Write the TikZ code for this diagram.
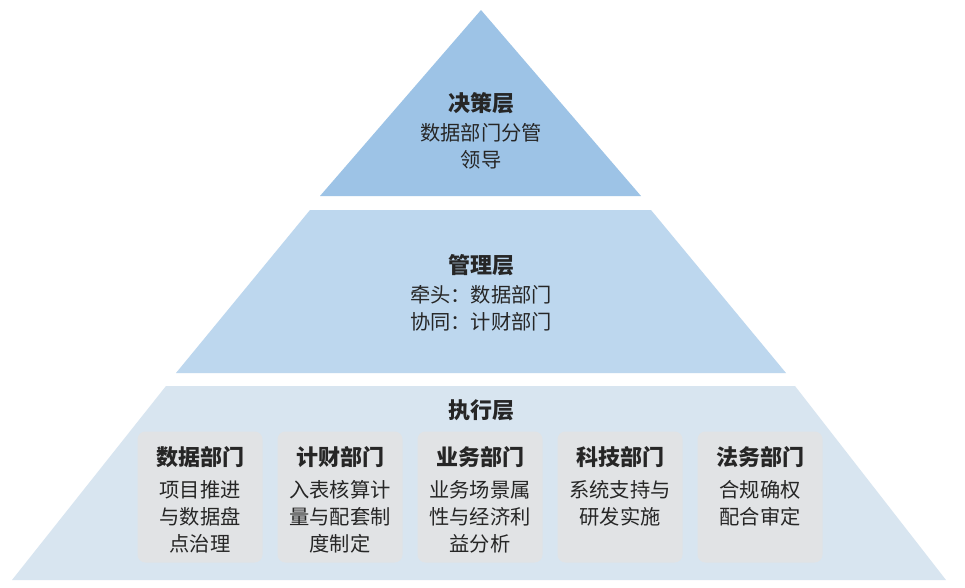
\documentclass[tikz,border=0pt]{standalone}
\usepackage{fontspec}
\setmainfont{Noto Sans CJK SC}
\definecolor{topBlue}{HTML}{9DC3E6}
\definecolor{midBlue}{HTML}{BDD7EE}
\definecolor{lowBlue}{HTML}{D8E5F0}
\definecolor{boxGrey}{HTML}{E1E3E5}
\definecolor{inkGrey}{HTML}{262626}
\newcommand{\drawDept}[4]{
	\node[deptbox] (#1) at (#2,497) {};
	\node[depttitle] (#1-title) at (#2,457) {#3};
	\node[layerbody, anchor=north] (#1-body) at (#2,480) {#4};
}

\begin{document}
\begin{tikzpicture}[x=0.75pt,y=-0.75pt,
	layertitle/.style={font=\fontsize{16.5}{20}\selectfont\bfseries, text=inkGrey, inner sep=0},
	depttitle/.style={layertitle},
	layerbody/.style={font=\fontsize{15.2}{20.25}\selectfont, text=inkGrey, align=center, inner sep=0},
	deptbox/.style={fill=boxGrey, rounded corners=6pt, minimum width=93.75pt, minimum height=98.25pt, inner sep=0}]
%%%%%%%%%%%%%%%%%%

%Background
\fill[white] (0,0) rectangle (965,587);
\useasboundingbox (0,0) rectangle (965,587);

%Pyramid layers
\fill[topBlue] (481,10) -- (641,196) -- (320,196) -- cycle;
\fill[midBlue] (310,210) -- (651,210) -- (786,373) -- (176,373) -- cycle;
\fill[lowBlue] (166,386) -- (795,386) -- (946,580) -- (12,580) -- cycle;

%Top layer
\node[layertitle] (decTitle) at (481,103) {决策层};
\node[layerbody] (decBody) at (481,146) {数据部门分管\\领导};

%Middle layer
\node[layertitle] (mgmtTitle) at (481,265) {管理层};
\node[layerbody] (mgmtBody) at (481,308) {牵头：数据部门\\协同：计财部门};

%Bottom layer
\node[layertitle] (execTitle) at (481,410) {执行层};
\drawDept{dataDept}{200}{数据部门}{项目推进\\与数据盘\\点治理}
\drawDept{finDept}{340}{计财部门}{入表核算计\\量与配套制\\度制定}
\drawDept{bizDept}{480}{业务部门}{业务场景属\\性与经济利\\益分析}
\drawDept{techDept}{620}{科技部门}{系统支持与\\研发实施}
\drawDept{lawDept}{760}{法务部门}{合规确权\\配合审定}
\end{tikzpicture}
\end{document}
